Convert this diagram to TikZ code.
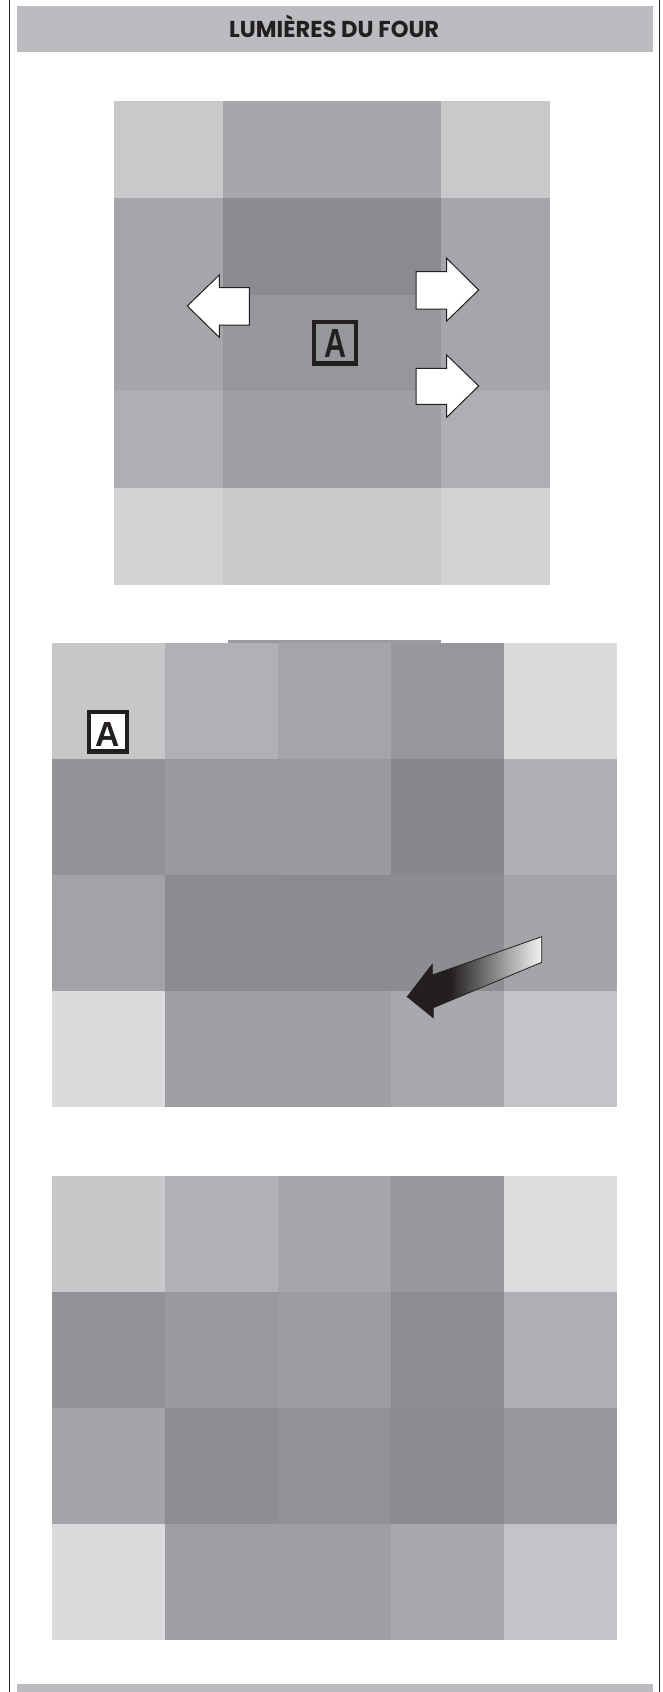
\documentclass[tikz,border=0pt]{standalone}
\usepackage{fontspec}
\usepackage{graphicx}
\newfontfamily\hdrfont{Poppins}
\newfontfamily\lblfont{Liberation Sans}
\definecolor{ink}{HTML}{231F20}
\definecolor{barc}{HTML}{BBBCBF}
\definecolor{tailc}{HTML}{F4F4F4}
\pgfdeclarehorizontalshading{arrowshade}{100bp}{color(0bp)=(ink); color(41bp)=(ink); color(75bp)=(tailc); color(100bp)=(tailc)}
\newcommand\mycell[5]{\definecolor{tmpc}{HTML}{#5}\fill[tmpc] (#1,#2) rectangle (#3,#4);}
\newcommand\gridrow[7]{%
  \mycell{52}{#1}{165}{#2}{#3}%
  \mycell{165}{#1}{278}{#2}{#4}%
  \mycell{278}{#1}{391}{#2}{#5}%
  \mycell{391}{#1}{504}{#2}{#6}%
  \mycell{504}{#1}{617}{#2}{#7}}
\begin{document}
\begin{tikzpicture}[x=1pt,y=-1pt,
  borderline/.style={draw=ink, line width=1.3pt},
  lblbox/.style={draw=ink, line width=4.5pt, inner sep=0pt, text=ink},
  blockarrow/.style={fill=white, draw=ink, line width=1pt, line join=miter},
  shadearrow/.style={shading=arrowshade, draw=ink, line width=0.8pt, line join=miter}]
\useasboundingbox (0,0) rectangle (663,1692);
\fill[white] (0,0) rectangle (663,1692);
% frame lines
\draw[borderline] (9.7,0) -- (9.7,1692);
\draw[borderline] (659.7,0) -- (659.7,1692);
% header and footer bars
\fill[barc] (17,6) rectangle (653,51.5);
\node[anchor=base, inner sep=0pt, text=ink] (title) at (334.2,37.7)
  {\resizebox{210pt}{\height}{\hdrfont\bfseries\fontsize{23}{23}\selectfont LUMIÈRES DU FOUR}};
\fill[barc] (17,1684) rectangle (653,1692);

% ---------- panel 1 ----------
\mycell{114}{101}{223}{197.7}{C8C9CB}
\mycell{223}{101}{441}{197.7}{A6A7AA}
\mycell{441}{101}{550}{197.7}{C8C9CB}
\mycell{114}{197.7}{223}{391}{A5A6A9}
\mycell{441}{197.7}{550}{391}{A5A6A9}
\mycell{223}{197.7}{441}{294.7}{8A8B8F}
\mycell{223}{294.7}{441}{391}{96979B}
\mycell{114}{391}{223}{487.7}{AEAFB2}
\mycell{223}{391}{441}{487.7}{9E9FA3}
\mycell{441}{391}{550}{487.7}{AEAFB2}
\mycell{114}{487.7}{223}{584.7}{D2D3D5}
\mycell{223}{487.7}{441}{584.7}{C8C9CB}
\mycell{441}{487.7}{550}{584.7}{D2D3D5}
% arrows panel 1
\draw[blockarrow] (187.3,306) -- (219.3,275) -- (219.3,287.7) -- (249.3,287.7)
  -- (249.3,325) -- (219.3,325) -- (219.3,337.3) -- cycle;
\draw[blockarrow] (416,271.7) -- (446.7,271.7) -- (446.7,258.3) -- (478.7,290)
  -- (446.7,321) -- (446.7,309) -- (416,309) -- cycle;
\draw[blockarrow] (416,368.3) -- (446.7,368.3) -- (446.7,355) -- (478.7,386)
  -- (446.7,417.3) -- (446.7,404.3) -- (416,404.3) -- cycle;
\node[lblbox, minimum width=42.1pt, minimum height=41.2pt] (boxA1) at (335,342.8) {};
\node[inner sep=0pt, text=ink] (letterA1) at (335.6,343.3) {\resizebox{22pt}{28pt}{\lblfont\bfseries A}};

% ---------- panel 2 ----------
\fill[fill={rgb,255:red,154;green,155;blue,158}] (228,640) rectangle (441,643);
\gridrow{643}{759}{C6C7C9}{B0B1B4}{A4A5A8}{97989B}{DADBDD}
\gridrow{759}{875}{929397}{98999D}{9A9B9F}{87888C}{AEAFB2}
\gridrow{875}{991}{A2A3A6}{8B8C90}{8B8C90}{8C8D91}{A3A4A7}
\gridrow{991}{1107}{DADBDD}{9E9FA3}{9E9FA3}{A8A9AC}{C3C4C7}
\node[lblbox, fill=white, minimum width=38.1pt, minimum height=39.2pt] (boxA2) at (108,731.8) {};
\node[inner sep=0pt, text=ink] (letterA2) at (107.9,734.7) {\resizebox{24.3pt}{24pt}{\lblfont\bfseries A}};
\draw[shadearrow] (541.7,936.7) -- (432.3,975) -- (432.3,964.3) -- (407.3,996.7)
  -- (433.3,1017.7) -- (433.3,1007.7) -- (541.7,962.3) -- cycle;

% ---------- panel 3 ----------
\gridrow{1176}{1292}{C7C8CA}{B0B1B4}{A5A6A9}{97989B}{DBDCDE}
\gridrow{1292}{1408}{919296}{98999D}{9C9DA0}{8D8E92}{AEAFB2}
\gridrow{1408}{1524}{A3A4A7}{8D8E92}{919296}{8A8B8F}{97989C}
\gridrow{1524}{1640}{DADBDD}{9E9FA3}{9E9FA3}{A8A9AC}{C3C4C7}
\end{tikzpicture}
\end{document}
